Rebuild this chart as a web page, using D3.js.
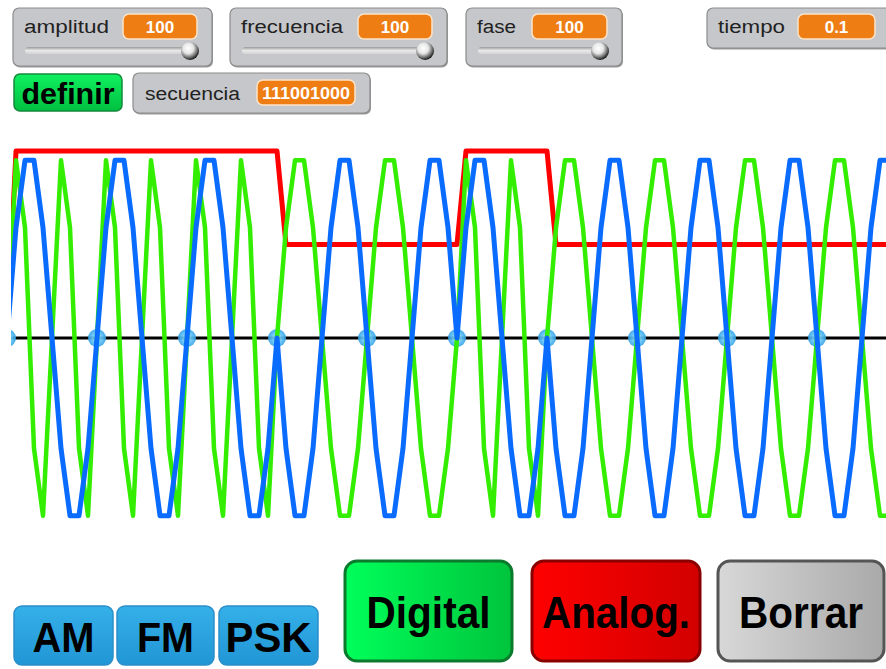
<!DOCTYPE html>
<html>
<head>
<meta charset="utf-8">
<style>
  body { margin: 0; background: #fff; }
  svg { display: block; font-family: 'Liberation Sans', Arial, sans-serif; }
</style>
</head>
<body>
<svg id="stage" width="886" height="669"></svg>
<script src="https://cdn.jsdelivr.net/npm/d3@7.9.0/dist/d3.min.js"></script>
<script>
// DATA
const secuencia = '111001000';
const bits = [1, 1, 1, 0, 0, 1, 0, 0, 0, 0]; // red stays low after the sequence

// one bit = 10 samples, fraction of amplitude
const pskOne  = [0, 0.59, 0.95, 0.95, 0.59, 0, -0.59, -0.95, -0.95, -0.59];
const pskZero = [0, -0.59, -0.95, -0.95, -0.59, 0, 0.59, 0.95, 0.95, 0.59];
const fmOne   = [0, 0.95, 0.59, -0.59, -0.95, 0, 0.95, 0.59, -0.59, -0.95];
const fmZero  = [0, 0.59, 0.95, 0.95, 0.59, 0, -0.59, -0.95, -0.95, -0.59];
const digitalLevel = [0.5, 1]; // bit 0 / bit 1

const watcherNames  = ['amplitud', 'frecuencia', 'fase', 'tiempo', 'secuencia'];
const watcherValues = ['100', '100', '100', '0.1', secuencia];
const modos    = ['AM', 'FM', 'PSK'];
const acciones = ['Digital', 'Analog.', 'Borrar'];

// BUILD SERIES
const psk = [], fm = [], digital = [{ t: 0, v: 0 }];
bits.forEach((b, i) => {
  (b ? pskOne : pskZero).forEach((v, j) => psk.push({ t: i * 10 + j, v }));
  (b ? fmOne : fmZero).forEach((v, j) => fm.push({ t: i * 10 + j, v }));
  for (let j = 1; j <= 10; j++) digital.push({ t: i * 10 + j, v: digitalLevel[b] });
});
psk.push({ t: bits.length * 10, v: 0 });
fm.push({ t: bits.length * 10, v: 0 });

const svg = d3.select('#stage');
const defs = svg.append('defs');

function linGrad(id, stops, vertical) {
  const g = defs.append('linearGradient').attr('id', id)
    .attr('x1', 0).attr('y1', 0)
    .attr('x2', vertical ? 0 : 1).attr('y2', vertical ? 1 : 0);
  stops.forEach(([o, c]) => g.append('stop').attr('offset', o).attr('stop-color', c));
}
linGrad('gGreen', [[0, '#00ff5a'], [1, '#00c43c']]);
linGrad('gRed', [[0, '#ff0000'], [1, '#d20000']]);
linGrad('gGray', [[0, '#d8d8d8'], [1, '#a9a9a9']]);
linGrad('gBlue', [[0, '#35b0e8'], [1, '#2196d6']], true);
linGrad('gDef', [[0, '#10f060'], [1, '#00c040']], true);
linGrad('gTrack', [[0, '#9a9a9a'], [0.5, '#e8e8e8'], [1, '#d4d4d4']], true);

const knob = defs.append('radialGradient').attr('id', 'gKnob')
  .attr('cx', '40%').attr('cy', '35%').attr('r', '65%');
[[0, '#ffffff'], [0.45, '#e6e6e6'], [0.8, '#6a6a6a'], [1, '#1a1a1a']]
  .forEach(([o, c]) => knob.append('stop').attr('offset', o).attr('stop-color', c));

const dot = defs.append('radialGradient').attr('id', 'gDot');
[[0, '#a8e4ff'], [0.6, '#5cc0f4'], [1, '#2f9fe6']]
  .forEach(([o, c]) => dot.append('stop').attr('offset', o).attr('stop-color', c));

defs.append('clipPath').attr('id', 'clip')
  .append('rect').attr('x', 11).attr('y', 120).attr('width', 875).attr('height', 430);

// SCALES
const x = d3.scaleLinear().domain([0, 100]).range([7, 907]);
const y = d3.scaleLinear().domain([-1, 1]).range([525, 151]);
const line = d3.line().x(d => x(d.t)).y(d => y(d.v));

// PLOT
const plot = svg.append('g').attr('clip-path', 'url(#clip)');

plot.append('line')
  .attr('x1', x(0)).attr('x2', x(100))
  .attr('y1', y(0)).attr('y2', y(0))
  .attr('stroke', '#000').attr('stroke-width', 3);

plot.selectAll('circle.mark')
  .data(d3.range(0, bits.length * 10 + 1, 10))
  .join('circle')
  .attr('class', 'mark')
  .attr('cx', d => x(d)).attr('cy', y(0)).attr('r', 9)
  .attr('fill', 'url(#gDot)').attr('opacity', 0.9);

[[digital, '#ff0000', 5], [fm, '#33ee00', 4.5], [psk, '#0a6cff', 5]].forEach(([data, color, w]) => {
  plot.append('path')
    .attr('d', line(data))
    .attr('fill', 'none')
    .attr('stroke', color)
    .attr('stroke-width', w)
    .attr('stroke-linejoin', 'round');
});

// WATCHERS
const watcherBoxes = [
  { x: 13, y: 8, w: 199, h: 58, lx: 24, lw: 85, vx: 123, vw: 74, knob: 190 },
  { x: 230, y: 8, w: 217, h: 58, lx: 241, lw: 102, vx: 358, vw: 74, knob: 425 },
  { x: 466, y: 8, w: 156, h: 58, lx: 477, lw: 39, vx: 532, vw: 75, knob: 600 },
  { x: 707, y: 8, w: 190, h: 40, lx: 718, lw: 67, vx: 798, vw: 77 },
  { x: 133, y: 73, w: 237, h: 40, lx: 145, lw: 95, vx: 257, vw: 98 }
];

watcherBoxes.forEach((b, i) => {
  const g = svg.append('g');
  g.append('rect')
    .attr('x', b.x + 1).attr('y', b.y + 1.5).attr('width', b.w).attr('height', b.h)
    .attr('rx', 6).attr('fill', '#9a9a9a');
  g.append('rect')
    .attr('x', b.x).attr('y', b.y).attr('width', b.w).attr('height', b.h)
    .attr('rx', 6).attr('fill', '#c6c7ca').attr('stroke', '#8c8c8c').attr('stroke-width', 1.2);
  g.append('text')
    .attr('x', b.lx).attr('y', b.y + 25 + (i === 4 ? 2 : 0))
    .attr('font-size', 18).attr('fill', '#222')
    .attr('textLength', b.lw).attr('lengthAdjust', 'spacingAndGlyphs')
    .text(watcherNames[i]);
  const vy = b.y + (i === 4 ? 7 : 6);
  g.append('rect')
    .attr('x', b.vx).attr('y', vy).attr('width', b.vw).attr('height', 25)
    .attr('rx', 6).attr('fill', '#ee7d14')
    .attr('stroke', '#fde3c8').attr('stroke-width', 1.5);
  const vt = g.append('text')
    .attr('x', b.vx + b.vw / 2).attr('y', vy + 18.5)
    .attr('text-anchor', 'middle')
    .attr('font-size', 17).attr('font-weight', 'bold').attr('fill', '#fff')
    .text(watcherValues[i]);
  if (i === 4) vt.attr('textLength', 88).attr('lengthAdjust', 'spacingAndGlyphs');
  if (b.knob) {
    g.append('rect')
      .attr('x', b.x + 12).attr('y', b.y + 39).attr('width', b.knob - b.x - 12).attr('height', 7)
      .attr('rx', 3.5).attr('fill', 'url(#gTrack)');
    g.append('circle')
      .attr('cx', b.knob).attr('cy', b.y + 43).attr('r', 9)
      .attr('fill', 'url(#gKnob)');
  }
});

// definir button
svg.append('rect')
  .attr('x', 14).attr('y', 74).attr('width', 108).attr('height', 37)
  .attr('rx', 6).attr('fill', 'url(#gDef)')
  .attr('stroke', '#138a3c').attr('stroke-width', 1.5);
svg.append('text')
  .attr('x', 68).attr('y', 104).attr('text-anchor', 'middle')
  .attr('font-size', 30).attr('font-weight', 'bold').attr('fill', '#000')
  .attr('textLength', 93).attr('lengthAdjust', 'spacingAndGlyphs')
  .text('definir');

// BUTTONS
const modoBoxes = [
  { x: 14, w: 99, tw: 62 },
  { x: 117, w: 97, tw: 57 },
  { x: 219, w: 99, tw: 86 }
];
modos.forEach((m, i) => {
  const b = modoBoxes[i];
  svg.append('rect')
    .attr('x', b.x).attr('y', 606).attr('width', b.w).attr('height', 59)
    .attr('rx', 8).attr('fill', 'url(#gBlue)')
    .attr('stroke', '#2b8fc9').attr('stroke-width', 1.5);
  svg.append('text')
    .attr('x', b.x + b.w / 2).attr('y', 652).attr('text-anchor', 'middle')
    .attr('font-size', 42).attr('font-weight', 'bold').attr('fill', '#000')
    .attr('textLength', b.tw).attr('lengthAdjust', 'spacingAndGlyphs')
    .text(m);
});

const accionBoxes = [
  { x: 345, w: 167, fill: 'url(#gGreen)', stroke: '#0c7a2c', tw: 124 },
  { x: 532, w: 168, fill: 'url(#gRed)', stroke: '#8a0000', tw: 148 },
  { x: 718, w: 166, fill: 'url(#gGray)', stroke: '#555', tw: 124 }
];
acciones.forEach((a, i) => {
  const b = accionBoxes[i];
  svg.append('rect')
    .attr('x', b.x).attr('y', 561).attr('width', b.w).attr('height', 100)
    .attr('rx', 12).attr('fill', b.fill)
    .attr('stroke', b.stroke).attr('stroke-width', 3);
  svg.append('text')
    .attr('x', b.x + b.w / 2).attr('y', 628).attr('text-anchor', 'middle')
    .attr('font-size', 44).attr('font-weight', 'bold').attr('fill', '#000')
    .attr('textLength', b.tw).attr('lengthAdjust', 'spacingAndGlyphs')
    .text(a);
});
</script>
</body>
</html>
